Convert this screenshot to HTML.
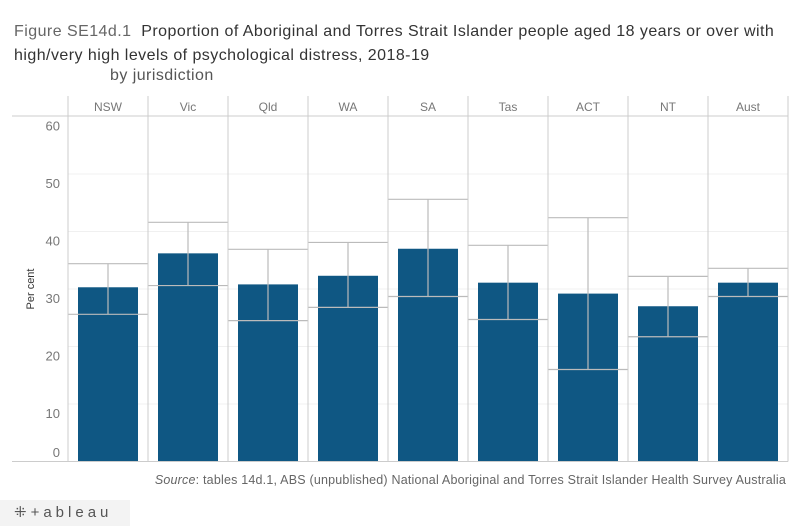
<!DOCTYPE html>
<html><head><meta charset="utf-8"><style>
body{margin:0;background:#fff;font-family:"Liberation Sans",sans-serif}
#wrap{position:relative;width:799px;height:526px;overflow:hidden}
.t{position:absolute;color:#333;font-size:16px;letter-spacing:0.45px}
</style></head><body>
<div id="wrap">
<div class="t" style="left:14px;top:20px;line-height:24px"><span style="color:#666">Figure SE14d.1</span>&nbsp; Proportion of Aboriginal and Torres Strait Islander people aged 18 years or over with<br>high/very high levels of psychological distress, 2018-19</div>
<div class="t" style="left:110px;top:67px;color:#555">by jurisdiction</div>
<svg id="c" width="799" height="526" style="position:absolute;left:0;top:0"></svg>
<div style="position:absolute;left:0;top:500px;width:130px;height:26px;background:#f3f3f3"><span style="position:absolute;left:14px;top:3px;color:#555;font-size:15px;letter-spacing:4px">⁜+ableau</span></div>
</div>
<script>
const categories=["NSW","Vic","Qld","WA","SA","Tas","ACT","NT","Aust"];
const values=[30.3,36.2,30.8,32.3,37.0,31.1,29.2,27.0,31.1];
const upper=[34.4,41.6,36.9,38.1,45.6,37.6,42.4,32.2,33.6];
const lower=[25.6,30.6,24.5,26.8,28.7,24.7,16.0,21.7,28.7];
const yTicks=[0,10,20,30,40,50,60];
const svg=document.getElementById('c');const NS='http://www.w3.org/2000/svg';
function el(t,a,p){const e=document.createElementNS(NS,t);for(const k in a)e.setAttribute(k,a[k]);(p||svg).appendChild(e);return e;}
const x0=68,pw=80,yTop=116.5,yBot=461.5;
const y=v=>yBot-(v/60)*(yBot-yTop);
yTicks.forEach(v=>{
 if(v>0&&v<60){const g=el('line',{x1:68,x2:788,y1:y(v),y2:y(v),stroke:'#f0f0f0'});}
 const t=el('text',{x:60,y:Math.min(y(v)+14,457),'text-anchor':'end','font-size':13,fill:'#777'});t.textContent=v;
 
 
});
const yt=el('text',{x:34,y:289,'text-anchor':'middle','font-size':11,fill:'#333',transform:'rotate(-90 34 289)'});yt.textContent='Per cent';


categories.forEach((c,i)=>{
 const px=x0+i*pw;
 const h=el('text',{x:px+pw/2,y:111,'text-anchor':'middle','font-size':12,fill:'#777'});h.textContent=c;
 
 
 const b=el('rect',{x:px+10,y:y(values[i]),width:60,height:yBot-y(values[i]),fill:'#0f5783'});
 
 
 const eb=el('g',{stroke:'#bbb','stroke-width':1.2});
 
 
 el('line',{x1:px,x2:px+pw,y1:y(upper[i]),y2:y(upper[i])},eb);
 el('line',{x1:px,x2:px+pw,y1:y(lower[i]),y2:y(lower[i])},eb);
 el('line',{x1:px+pw/2,x2:px+pw/2,y1:y(upper[i]),y2:y(lower[i])},eb);
});
for(let i=0;i<=9;i++){el('line',{x1:x0+i*pw,x2:x0+i*pw,y1:96,y2:yBot,stroke:'#ccc'});}
el('line',{x1:12,x2:788,y1:116,y2:116,stroke:'#ccc'});
el('line',{x1:12,x2:788,y1:yBot,y2:yBot,stroke:'#ccc'});
const s=el('text',{x:786,y:484,'text-anchor':'end','font-size':12.5,fill:'#666','letter-spacing':'0.2'});
s.innerHTML='<tspan font-style="italic">Source</tspan>: tables 14d.1, ABS (unpublished) National Aboriginal and Torres Strait Islander Health Survey Australia';


</script>
</body></html>
